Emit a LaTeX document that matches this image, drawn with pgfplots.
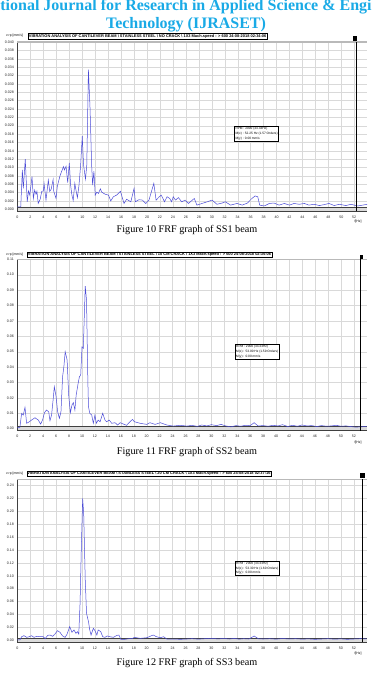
\documentclass[border=0pt]{standalone}
\usepackage{fontspec}
\setmainfont{Liberation Serif}
\newfontfamily\chartfont{Liberation Sans}
\usepackage{pgfplots}
\pgfplotsset{compat=1.18}
\definecolor{curve}{RGB}{75,75,215}
\definecolor{titlecyan}{RGB}{25,170,230}
\pgfplotsset{
 frf/.style={
  scale only axis, anchor=south west,
  xmin=0, xmax=54,
  xtick={0,2,...,52},
  grid=major, grid style={gray!30, line width=0.35pt},
  axis line style={draw=none},
  major tick length=0pt,
  ticklabel style={font=\chartfont\fontsize{3.6}{4}\selectfont, text=black!85},
  /pgf/number format/assume math mode=true,
  scaled y ticks=false,
  yticklabel style={/pgf/number format/.cd, fixed, fixed zerofill},
  xticklabel style={yshift=-0.6pt},
  clip=false,
 },
 curvestyle/.style={curve, line width=0.5pt},
}
\newcommand{\chartframe}[2]{%
  \fill[gray!28] (axis cs:0,#1) rectangle (axis cs:54,#2);
  \draw[gray!50!black, line width=0.45pt] (axis cs:0,#1) -- (axis cs:54,#1);
  \draw[gray!50!black, line width=0.45pt] (axis cs:0,#2) -- (axis cs:54,#2);
  \draw[gray!50!black, line width=0.6pt] (rel axis cs:0,0) -- (rel axis cs:0,1);
  \draw[gray!55, line width=1.2pt] (rel axis cs:0,1) -- (rel axis cs:1,1);
}
\begin{document}
\begin{tikzpicture}
\path[use as bounding box] (0pt,0pt) rectangle (372pt,680pt);

% ---------------- chart 1 ----------------
\begin{axis}[frf, at={(17.5pt,468.6pt)}, width=349.7pt, height=169.3pt,
  ymin=-0.0005, ymax=0.040,
  ytick={0,0.002,0.004,0.006,0.008,0.010,0.012,0.014,0.016,0.018,0.020,0.022,0.024,0.026,0.028,0.030,0.032,0.034,0.036,0.038,0.040},
  yticklabel style={/pgf/number format/precision=3}]
\chartframe{-0.0005}{0.0005}
\addplot[curvestyle] coordinates {
(0,0.0006) (0.5,0.0006) (0.75,0.0094) (0.9,0.005) (1.2,0.012) (1.5,0.0018) (1.7,0.0044) (1.9,0.0034) (2.24,0.0078) (2.45,0.0026) (2.65,0.0046) (2.86,0.0036) (3.0,0.0043) (3.2,0.0014) (3.5,0.0024) (3.75,0.0043) (4.0,0.0044) (4.1,0.0062) (4.4,0.0022) (4.76,0.0070) (4.97,0.0043) (5.2,0.0048) (5.5,0.0071) (5.6,0.0043) (5.95,0.0026) (6.15,0.0055) (6.56,0.0080) (6.8,0.0090) (7.1,0.0102) (7.25,0.0094) (7.5,0.0103) (7.75,0.0064) (8.0,0.0111) (8.2,0.0058) (8.4,0.0034) (8.6,0.0021) (8.85,0.0062) (9.05,0.0044) (9.25,0.0028) (9.5,0.0058) (9.75,0.0106) (10.0,0.0175) (10.2,0.0106) (10.5,0.0072) (10.7,0.0106) (10.95,0.0334) (11.2,0.0242) (11.45,0.0106) (11.6,0.0058) (11.8,0.0091) (12.0,0.0034) (12.25,0.0041) (12.5,0.0038) (12.8,0.0049) (13.0,0.0041) (13.55,0.0036) (14.05,0.0034) (14.4,0.0020) (14.8,0.0030) (15.3,0.0034) (15.9,0.0043) (16.45,0.0014) (16.85,0.0024) (17.5,0.0018) (18.0,0.0050) (18.2,0.0018) (18.75,0.0023) (19.3,0.0022) (19.8,0.0014) (20.3,0.0022) (21.05,0.0062) (21.4,0.0022) (21.9,0.0030) (22.2,0.0034) (22.7,0.0018) (23.1,0.0030) (23.5,0.0026) (23.8,0.0018) (24.05,0.0030) (24.4,0.0022) (24.85,0.0028) (25.35,0.0018) (25.9,0.0022) (26.4,0.0014) (27.3,0.0026) (27.7,0.0010) (28.5,0.0014) (29.3,0.0018) (30.05,0.0022) (30.8,0.0012) (31.6,0.0015) (32.1,0.0018) (32.9,0.0010) (33.9,0.0014) (34.7,0.0010) (35.5,0.0015) (36.2,0.0026) (36.7,0.0032) (37.1,0.0030) (37.4,0.0010) (38.1,0.0008) (38.9,0.0014) (39.6,0.0015) (40.4,0.0010) (41.2,0.0014) (42.0,0.0010) (42.7,0.0014) (43.5,0.0012) (44.3,0.0014) (45.0,0.0010) (45.8,0.0012) (46.6,0.0009) (47.3,0.0011) (48.1,0.0014) (48.9,0.0009) (49.7,0.0012) (50.7,0.0009) (51.5,0.0012) (52.5,0.0008) (53.3,0.0010) (54.0,0.0012)
};
\addplot[black, line width=0.7pt] coordinates {(52.25,-0.0005) (52.25,0.040)};
\end{axis}

% ---------------- chart 2 ----------------
\begin{axis}[frf, at={(17.3pt,249.3pt)}, width=349.4pt, height=171.4pt,
  ymin=-0.0013, ymax=0.11,
  ytick={0,0.01,0.02,0.03,0.04,0.05,0.06,0.07,0.08,0.09,0.10,0.11},
  yticklabel style={/pgf/number format/precision=2}]
\chartframe{-0.0013}{0.0013}
\addplot[curvestyle] coordinates {
(0,0.0009) (0.4,0.0009) (0.67,0.010) (0.93,0.0089) (1.19,0.0139) (1.44,0.0035) (1.86,0.0045) (2.2,0.0056) (2.73,0.0071) (3.25,0.0056) (3.6,0.0030) (3.9,0.0056) (4.2,0.0104) (4.5,0.0121) (4.85,0.011) (5.05,0.0052) (5.3,0.0089) (5.57,0.0203) (5.72,0.0273) (5.98,0.0212) (6.24,0.011) (6.5,0.0067) (6.75,0.011) (7.0,0.0338) (7.2,0.0403) (7.4,0.050) (7.7,0.0446) (7.94,0.0219) (8.2,0.0104) (8.45,0.0154) (8.66,0.0169) (8.9,0.0121) (9.1,0.0219) (9.4,0.0294) (9.6,0.0338) (9.8,0.0348) (10.0,0.0532) (10.2,0.0522) (10.5,0.0926) (10.7,0.0835) (10.9,0.0316) (11.0,0.0143) (11.2,0.010) (11.5,0.0089) (11.75,0.0035) (12.0,0.0089) (12.2,0.0035) (12.5,0.0056) (12.8,0.0045) (13.2,0.010) (13.55,0.0056) (13.8,0.0045) (14.2,0.0056) (14.6,0.0035) (15.1,0.0039) (15.5,0.0024) (15.9,0.0039) (16.4,0.0030) (16.9,0.0022) (17.4,0.0045) (17.8,0.006) (18.1,0.0045) (19,0.0035) (20,0.0028) (20.5,0.0039) (21.3,0.0028) (22.1,0.0039) (23.1,0.0024) (24.1,0.0017) (25.2,0.0022) (26.2,0.0017) (27,0.0022) (27.8,0.0015) (28.5,0.0024) (29.3,0.0018) (30,0.0026) (30.8,0.0020) (31.5,0.0028) (32.2,0.0018) (33,0.0012) (33.8,0.0020) (34.5,0.0016) (35.3,0.0022) (36.0,0.0020) (36.6,0.0039) (37.2,0.0018) (38,0.0020) (38.8,0.0016) (39.5,0.0022) (40.3,0.0018) (41,0.0026) (41.8,0.0014) (42.5,0.0022) (43.3,0.0016) (44,0.0024) (44.8,0.0018) (45.5,0.0020) (46.3,0.0014) (47,0.0020) (47.8,0.0016) (48.5,0.0018) (49.3,0.0022) (50,0.0016) (50.8,0.0018) (51.5,0.0014) (52.3,0.0010) (53,0.0012) (54,0.0014)
};
\addplot[black, line width=0.7pt] coordinates {(53.0,-0.0013) (53.0,0.11)};
\end{axis}

% ---------------- chart 3 ----------------
\begin{axis}[frf, at={(17.3pt,37.5pt)}, width=349.4pt, height=163.3pt,
  ymin=-0.0034, ymax=0.25,
  ytick={0,0.02,0.04,0.06,0.08,0.10,0.12,0.14,0.16,0.18,0.20,0.22,0.24},
  yticklabel style={/pgf/number format/precision=2}]
\chartframe{-0.0034}{0.0034}
\addplot[curvestyle] coordinates {
(0,0.0005) (0.4,0.0005) (0.67,0.0056) (1.03,0.0072) (1.44,0.0046) (1.86,0.0056) (2.2,0.0072) (2.58,0.0046) (3.0,0.0062) (3.5,0.0056) (4.0,0.0056) (4.3,0.0025) (4.7,0.0077) (5.05,0.0082) (5.46,0.0062) (5.8,0.0093) (6.2,0.015) (6.6,0.0124) (7.0,0.0067) (7.4,0.0046) (7.7,0.0098) (8.1,0.0212) (8.45,0.0124) (8.76,0.016) (9.07,0.0108) (9.3,0.0134) (9.5,0.0098) (9.7,0.0574) (9.9,0.145) (10.1,0.2203) (10.26,0.197) (10.5,0.0936) (10.7,0.0418) (11.0,0.029) (11.2,0.016) (11.4,0.0082) (11.75,0.0186) (12.0,0.015) (12.3,0.0082) (12.5,0.016) (12.9,0.0134) (13.2,0.0056) (13.55,0.0046) (13.9,0.0067) (14.3,0.0056) (14.85,0.0046) (15.4,0.0077) (15.7,0.0082) (16.0,0.0015) (16.6,0.0015) (17.2,0.0025) (17.7,0.0025) (18.1,0.0046) (19,0.003) (20,0.004) (21,0.0082) (21.5,0.0056) (22.1,0.004) (22.6,0.0056) (23.1,0.002) (24.1,0.002) (25.2,0.0015) (26.2,0.002) (27,0.0025) (28,0.0018) (29,0.0025) (30,0.0030) (31,0.0022) (32,0.0028) (32.8,0.0020) (33.5,0.0030) (34.3,0.0018) (35,0.0025) (35.8,0.0020) (36.6,0.0067) (37.3,0.0022) (38,0.0020) (39,0.0025) (40,0.0018) (41,0.0028) (42,0.0020) (43,0.0025) (44,0.0018) (45,0.0022) (46,0.0015) (47,0.0020) (48,0.0025) (49,0.0018) (50,0.0022) (51,0.0015) (52,0.0020) (53,0.0025) (54,0.0022)
};
\addplot[black, line width=0.7pt] coordinates {(53.3,-0.0034) (53.3,0.25)};
\end{axis}

\begin{scope}[x=1pt,y=1pt]
% title
\node[anchor=base, font=\fontsize{16}{16}\selectfont\bfseries, text=titlecyan] at (186,669) {International Journal for Research in Applied Science \& Engineering};
\node[anchor=base, font=\fontsize{16}{16}\selectfont\bfseries, text=titlecyan] at (186,651) {Technology (IJRASET)};

\tikzset{hdr/.style={draw=black, fill=white, line width=0.45pt, inner sep=0.7pt, anchor=west,
   font=\chartfont\bfseries\fontsize{3.95}{4}\selectfont},
  vlab/.style={font=\chartfont\fontsize{3.4}{3.6}\selectfont},
  info/.style={draw=black, fill=white, line width=0.4pt, align=left, inner sep=1pt, anchor=north west,
   font=\chartfont\fontsize{3.2}{4.8}\selectfont},
  fhz/.style={font=\chartfont\fontsize{3.4}{3.6}\selectfont},
  figcap/.style={anchor=base, font=\fontsize{10.2}{11}\selectfont}}

% chart 1
\node[vlab] at (14.5,644) {v rp [mm/s]};
\node[hdr] at (28,643.8) {VIBRATION ANALYSIS OF CANTILEVER BEAM \textbackslash{} STAINLESS STEEL \textbackslash{} NO CRACK \textbackslash{} 1X3 Mach.speed : > 600 24-08-2018 02:34:06};
\node[info] at (234.3,554) {RPM : 2000 (33.33Hz)\\M(x) : 52.25 Hz (1.57 Orders)\\M(y) : 0.00 mm/s};
\fill[black] (353.3,639.3) rectangle (357.3,644);
\node[fhz] at (358,458.5) {f[Hz]};
\node[figcap] at (187,447.3) {Figure 10 FRF graph of SS1 beam};

% chart 2
\node[vlab] at (14.5,425.7) {v rp [mm/s]};
\node[hdr] at (27,425.2) {VIBRATION ANALYSIS OF CANTILEVER BEAM \textbackslash{} STAINLESS STEEL \textbackslash{} 10 CM CRACK \textbackslash{} 1X3 Mach.speed : > 600 24-08-2018 02:35:06};
\node[info] at (235,335.7) {RPM : 2000 (33.33Hz)\\M(x) : 53.00 Hz (1.59 Orders)\\M(y) : 0.00 mm/s};
\fill[black] (360,420.7) rectangle (363.3,425.3);
\node[fhz] at (358,237.5) {f[Hz]};
\node[figcap] at (187,225) {Figure 11 FRF graph of SS2 beam};

% chart 3
\node[vlab] at (14.5,206.5) {v rp [mm/s]};
\node[hdr] at (26.5,206.3) {VIBRATION ANALYSIS OF CANTILEVER BEAM \textbackslash{} STAINLESS STEEL \textbackslash{} 20 CM CRACK \textbackslash{} 1X3 Mach.speed : > 600 24-08-2018 02:37:16};
\node[info] at (235,119.3) {RPM : 2000 (33.33Hz)\\M(x) : 53.30 Hz (1.60 Orders)\\M(y) : 0.00 mm/s};
\fill[black] (360.3,201.7) rectangle (365,206.7);
\node[fhz] at (358,26.5) {f[Hz]};
\node[figcap] at (187,14.4) {Figure 12 FRF graph of SS3 beam};
\end{scope}
\end{tikzpicture}
\end{document}
